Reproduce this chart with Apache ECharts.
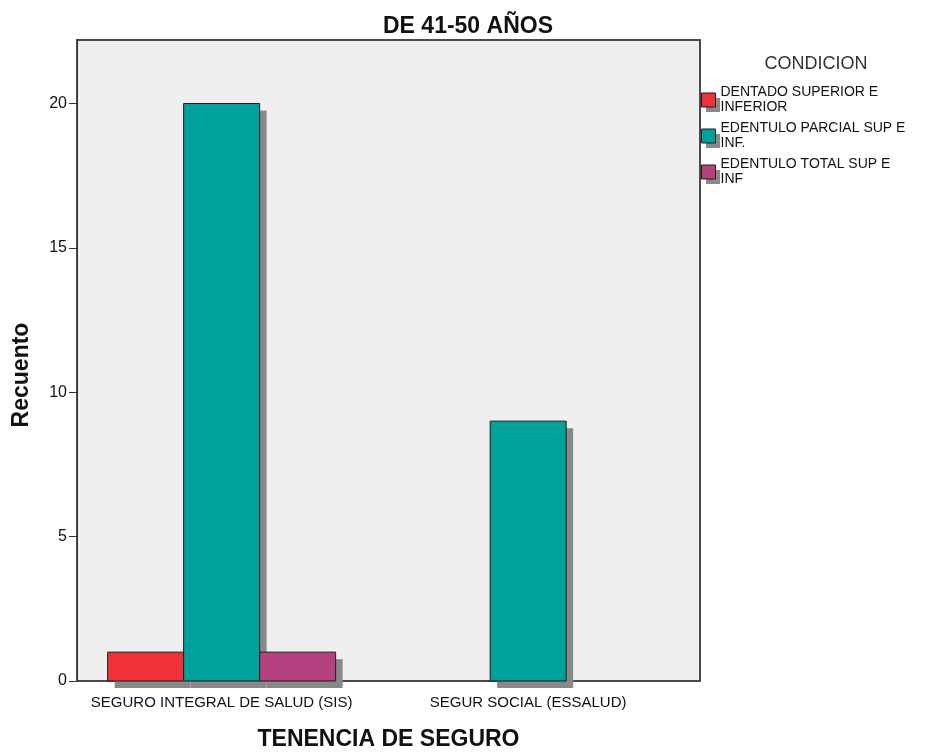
<!DOCTYPE html>
<html>
<head>
<meta charset="utf-8">
<script src="https://cdn.jsdelivr.net/npm/echarts@6/dist/echarts.min.js"></script>
<style>
  html, body { margin: 0; padding: 0; background: #ffffff; }
  #chart { width: 927px; height: 755px; }
</style>
</head>
<body>
<div id="chart"></div>
<script>
// Insurance categories on the x axis
const categories = ['SEGURO INTEGRAL DE SALUD (SIS)', 'SEGUR SOCIAL (ESSALUD)'];

// Counts per dental condition (null = no bar)
const dentadoSupInf = [1, null];
const edentuloParcial = [20, 9];
const edentuloTotal = [1, null];

const seriesNames = [
  'DENTADO SUPERIOR E\nINFERIOR',
  'EDENTULO PARCIAL SUP E\nINF.',
  'EDENTULO TOTAL SUP E\nINF'
];
const seriesColors = ['#ef3139', '#00a29c', '#b5407f'];

const yTicks = [0, 5, 10, 15, 20];
const yMax = 22.2;

const FONT = 'Liberation Sans, Arial, sans-serif';
const BAR_W = 76;        // bar width in px
const SHADOW = 7;        // drop-shadow offset in px
const SHADOW_COLOR = '#898989';

const chart = echarts.init(document.getElementById('chart'), null, { renderer: 'canvas' });

const values = [dentadoSupInf, edentuloParcial, edentuloTotal];

// Clustered bar with a flat drop shadow; bars sit side by side, centred on the band
function makeRenderItem(seriesIdx, nSeries, color) {
  return function (params, api) {
    const v = api.value(1);
    if (v == null || isNaN(v)) return null;
    const base = api.coord([api.value(0), 0]);
    const top = api.coord([api.value(0), v]);
    const x = base[0] + (seriesIdx - nSeries / 2) * BAR_W;
    const y = top[1];
    const h = base[1] - top[1];
    return {
      type: 'group',
      children: [
        { type: 'rect', shape: { x: x + SHADOW, y: y + SHADOW, width: BAR_W, height: h },
          style: { fill: SHADOW_COLOR } },
        { type: 'rect', shape: { x: x, y: y, width: BAR_W, height: h },
          style: { fill: color, stroke: '#1c1c1c', lineWidth: 1 } }
      ]
    };
  };
}

const option = {
  backgroundColor: '#ffffff',
  animation: false,
  textStyle: { fontFamily: FONT },
  title: [
    {
      text: 'DE 41-50 AÑOS',
      left: 463, top: 10, textAlign: 'center',
      textStyle: { fontSize: 23, fontWeight: 'bold', color: '#111', fontFamily: FONT }
    },
    {
      text: 'CONDICION',
      left: 811, top: 50, textAlign: 'center',
      textStyle: { fontSize: 18, fontWeight: 'normal', color: '#333', fontFamily: FONT }
    }
  ],
  legend: {
    orient: 'vertical',
    left: 701, top: 85,
    padding: 0,
    itemGap: 6,
    itemWidth: 14, itemHeight: 14,
    icon: 'rect',
    selectedMode: false,
    data: seriesNames,
    itemStyle: { borderColor: '#1c1c1c', borderWidth: 1 },
    textStyle: { fontSize: 14, lineHeight: 15, color: '#111', fontFamily: FONT }
  },
  grid: [
    // bar grid: category bands
    { left: 68.4, top: 40, width: 613, height: 641, containLabel: false },
    // frame grid: shaded plot area and value axis
    { left: 77, top: 40, width: 623, height: 641, show: true,
      backgroundColor: '#efefef', borderColor: '#4a4a4a', borderWidth: 2, z: 0 }
  ],
  xAxis: [
    {
      gridIndex: 0, type: 'category', data: categories,
      axisLine: { show: false },
      axisTick: { show: true, alignWithLabel: true, length: 5, lineStyle: { color: '#333' } },
      axisLabel: { fontSize: 15, color: '#111', margin: 14, interval: 0 }
    },
    { gridIndex: 1, type: 'value', show: false, min: 0, max: 1 }
  ],
  yAxis: [
    { gridIndex: 0, type: 'value', min: 0, max: yMax, show: false },
    {
      gridIndex: 1, type: 'value', min: 0, max: yMax,
      axisLine: { show: true, lineStyle: { color: '#333', width: 1 } },
      axisTick: { show: true, length: 8, customValues: yTicks, lineStyle: { color: '#333' } },
      axisLabel: { fontSize: 16, color: '#111', margin: 10, customValues: yTicks },
      splitLine: { show: false }
    }
  ],
  series: seriesNames.map((name, i) => ({
    name: name,
    type: 'custom',
    xAxisIndex: 0, yAxisIndex: 0,
    data: values[i].map((v, k) => [k, v == null ? '-' : v]),
    encode: { x: 0, y: 1 },
    itemStyle: { color: seriesColors[i] },
    renderItem: makeRenderItem(i, values.length, seriesColors[i]),
    clip: false,
    z: 2 + i,
    emphasis: { disabled: true }
  })),
  graphic: [
    // drop shadows behind the legend swatches
    ...seriesNames.map((n, i) => ({
      type: 'rect', z: 1,
      shape: { x: 706, y: 98 + i * 36, width: 14, height: 14 },
      style: { fill: SHADOW_COLOR }
    })),
    {
      type: 'text', x: 388.5, y: 740,
      style: { text: 'TENENCIA DE SEGURO', font: 'bold 23px ' + FONT,
               fill: '#111', align: 'center', verticalAlign: 'middle' }
    },
    {
      type: 'text', x: 22, y: 375, rotation: Math.PI / 2,
      style: { text: 'Recuento', font: 'bold 23px ' + FONT,
               fill: '#111', align: 'center', verticalAlign: 'middle' }
    }
  ]
};

chart.setOption(option);
</script>
</body>
</html>
